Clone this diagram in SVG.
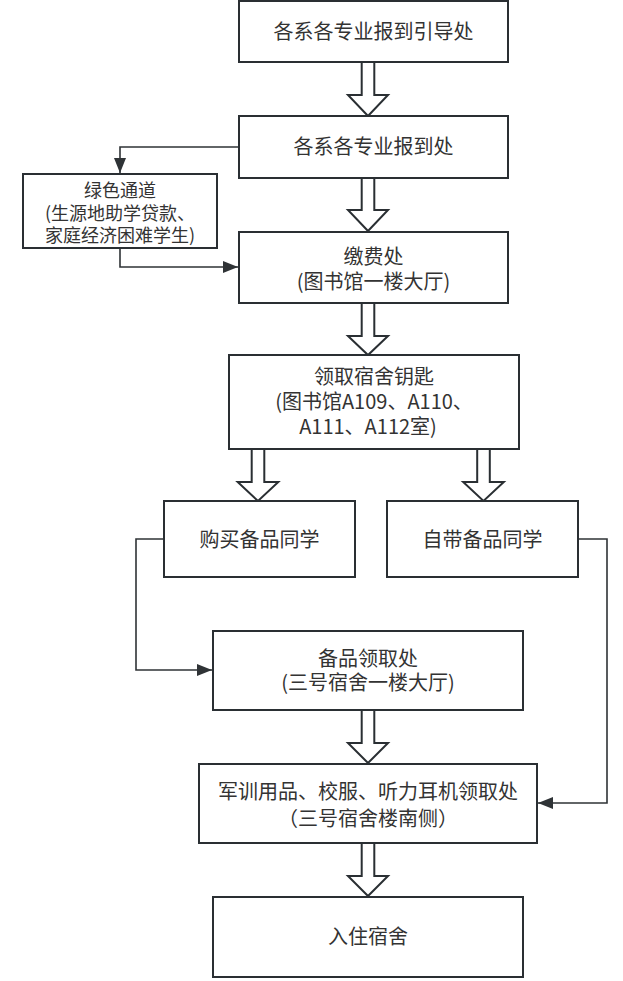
<svg xmlns="http://www.w3.org/2000/svg" width="623" height="981" viewBox="0 0 623 981">
<defs>
<style>
.box{fill:#fff;stroke:#2a2f33;stroke-width:2}
.blk{fill:#fff;stroke:#2a2f33;stroke-width:2;stroke-linejoin:miter}
.con{fill:none;stroke:#2f3336;stroke-width:1.6}
text{font-family:"Noto Sans CJK SC","Noto Sans",sans-serif;fill:#333;text-anchor:middle;font-size:20px}
.sm{font-size:18px}
</style>
<marker id="ah" markerUnits="userSpaceOnUse" markerWidth="15" markerHeight="12" refX="15" refY="6" orient="auto">
<path d="M0,0 L15,6 L0,12 z" fill="#2f3336"/>
</marker>
</defs>
<rect width="623" height="981" fill="#fff"/>
<g id="connectors">
<polyline class="con" points="239,147 120,147 120,173" marker-end="url(#ah)"/>
<polyline class="con" points="120,248 120,267 238,267" marker-end="url(#ah)"/>
<polyline class="con" points="164,539 136,539 136,670 212,670" marker-end="url(#ah)"/>
<polyline class="con" points="578,539 607,539 607,803 538,803" marker-end="url(#ah)"/>
<polygon class="blk" points="361.7,62 374.3,62 374.3,95 388,95 368,116 348,95 361.7,95"/>
<polygon class="blk" points="361.7,178 374.3,178 374.3,210 388,210 368,231 348,210 361.7,210"/>
<polygon class="blk" points="361.7,303 374.3,303 374.3,336 388,336 368,355 348,336 361.7,336"/>
<polygon class="blk" points="251.7,449 264.3,449 264.3,482 278.3,482 258,501 237.7,482 251.7,482"/>
<polygon class="blk" points="477.2,449 489.8,449 489.8,482 503.8,482 483.5,501 463.2,482 477.2,482"/>
<polygon class="blk" points="361.7,710 374.3,710 374.3,743 388,743 368,763 348,743 361.7,743"/>
<polygon class="blk" points="361.7,843 374.3,843 374.3,876 388,876 368,896 348,876 361.7,876"/>
</g>
<g id="n1"><rect class="box" x="239" y="1" width="269" height="61"/><text x="373.5" y="39">各系各专业报到引导处</text></g>
<g id="n2"><rect class="box" x="239" y="116" width="269" height="62"/><text x="373.5" y="154">各系各专业报到处</text></g>
<g id="n3"><rect class="box" x="23" y="174" width="194" height="74"/><text class="sm" x="120" y="197">绿色通道</text><text class="sm" x="120" y="220">(生源地助学贷款、</text><text class="sm" x="120" y="242">家庭经济困难学生)</text></g>
<g id="n4"><rect class="box" x="239" y="232" width="269" height="71"/><text x="373.5" y="264">缴费处</text><text x="373.5" y="289">(图书馆一楼大厅)</text></g>
<g id="n5"><rect class="box" x="229" y="355" width="290" height="94"/><text x="374" y="384">领取宿舍钥匙</text><text x="374" y="409">(图书馆A109、A110、</text><text x="368" y="434">A111、A112室)</text></g>
<g id="n6"><rect class="box" x="164" y="501" width="191" height="76"/><text x="259.5" y="547">购买备品同学</text></g>
<g id="n7"><rect class="box" x="387" y="501" width="191" height="76"/><text x="482.5" y="547">自带备品同学</text></g>
<g id="n8"><rect class="box" x="213" y="631" width="310" height="79"/><text x="368" y="666">备品领取处</text><text x="368" y="690">(三号宿舍一楼大厅)</text></g>
<g id="n9"><rect class="box" x="199" y="764" width="338" height="79"/><text x="368" y="799">军训用品、校服、听力耳机领取处</text><text x="368" y="826">（三号宿舍楼南侧）</text></g>
<g id="n10"><rect class="box" x="213" y="897" width="310" height="80"/><text x="368" y="944">入住宿舍</text></g>
</svg>
